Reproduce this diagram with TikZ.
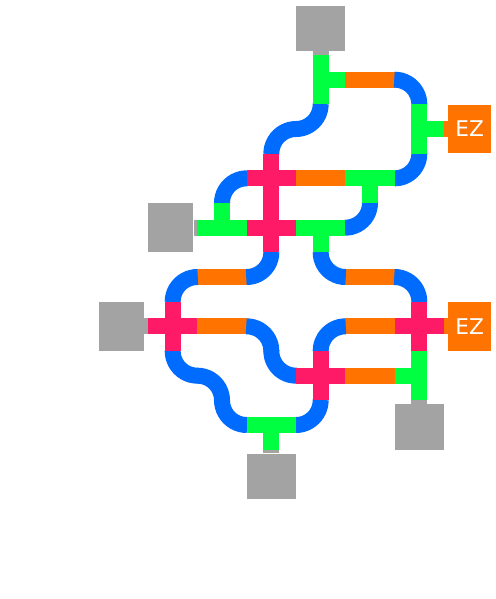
\documentclass[tikz,border=0pt]{standalone}
\usepackage{fontspec}
\setsansfont{DejaVu Sans}
\usepackage{tikz}
\usetikzlibrary{positioning}
\definecolor{pblue}{HTML}{006CFF}
\definecolor{porange}{HTML}{FF7300}
\definecolor{pgreen}{HTML}{00FF40}
\definecolor{ppink}{HTML}{FF1A68}
\definecolor{pgray}{HTML}{A3A3A3}
\tikzset{
  pipe/.style     = {line width=0.324cm, line cap=butt},
  curvepipe/.style= {pipe, draw=pblue},
  straightpipe/.style = {pipe, draw=porange},
  teepipe/.style  = {pipe, draw=pgreen},
  crosspipe/.style= {pipe, draw=ppink},
  srcv/.style     = {rectangle, fill=pgray, inner sep=0pt, minimum width=1cm, minimum height=0.92cm},
  srch/.style     = {rectangle, fill=pgray, inner sep=0pt, minimum width=0.92cm, minimum height=1cm},
  ez/.style       = {rectangle, fill=porange, inner sep=0pt, minimum width=0.88cm, minimum height=0.98cm,
                     text=white, font=\sffamily\fontsize{12.5}{14}\selectfont},
}
\begin{document}
\begin{tikzpicture}
\useasboundingbox (0,0.115) rectangle (10.034,-12.027);
% sources
\node[srcv] (srctop) at (6.5,-0.46) {};
\node[srch] (srcmid) at (3.46,-4.5) {};
\node[srch] (srcleft) at (2.46,-6.5) {};
\node[srcv] (srcright) at (8.5,-8.54) {};
\node[srcv] (srcbot) at (5.5,-9.54) {};
% sinks
\node[ez] (eztop) at (9.52,-2.5) {EZ};
\node[ez] (ezbot) at (9.52,-6.5) {EZ};
% stubs
\draw[pipe,draw=pgray] (srctop.south) -- ++(0,-0.09);
\draw[pipe,draw=pgray] (srcmid.east) -- ++(0.09,0);
\draw[pipe,draw=pgray] (srcleft.east) -- ++(0.09,0);
\draw[pipe,draw=pgray] (srcright.north) -- ++(0,0.09);
\draw[pipe,draw=pgray] (srcbot.north) -- ++(0,0.09);
\draw[pipe,draw=porange] (eztop.west) -- ++(-0.09,0);
\draw[pipe,draw=porange] (ezbot.west) -- ++(-0.09,0);
% straights
\foreach \c/\r in {7/1, 6/3, 4/5, 7/5, 4/6, 7/6, 7/7}
  \draw[straightpipe] (\c,-\r-0.5) -- (\c+1,-\r-0.5);
% bends (slight overlap hides seams)
\foreach \x/\y/\a in {8/-2/0, 6/-2/270, 6/-3/90, 5/-4/90, 8/-3/270, 7/-4/270,
    4/-6/90, 5/-5/270, 7/-5/180, 8/-6/0, 5/-7/0, 7/-7/90, 4/-7/180,
    4/-8/0, 6/-7/180, 5/-8/180, 6/-8/270}
  \draw[curvepipe] (\x,\y) ++(\a-1:0.5) arc[start angle=\a-1, delta angle=92, radius=0.5];
% tees
\foreach \c/\r/\arms in {6/1/{90,270,0}, 8/2/{90,270,0}, 7/3/{180,0,270}, 4/4/{180,0,90},
    6/4/{180,0,270}, 8/7/{180,90,270}, 5/8/{180,0,270}}
  \foreach \a in \arms
    \draw[teepipe] (\c+0.5,-\r-0.5) -- ++(\a:0.5);
% crosses
\foreach \c/\r in {5/3, 5/4, 3/6, 8/6, 6/7} {
  \draw[crosspipe] (\c,-\r-0.5) -- ++(1,0);
  \draw[crosspipe] (\c+0.5,-\r) -- ++(0,-1);
}
\end{tikzpicture}
\end{document}
